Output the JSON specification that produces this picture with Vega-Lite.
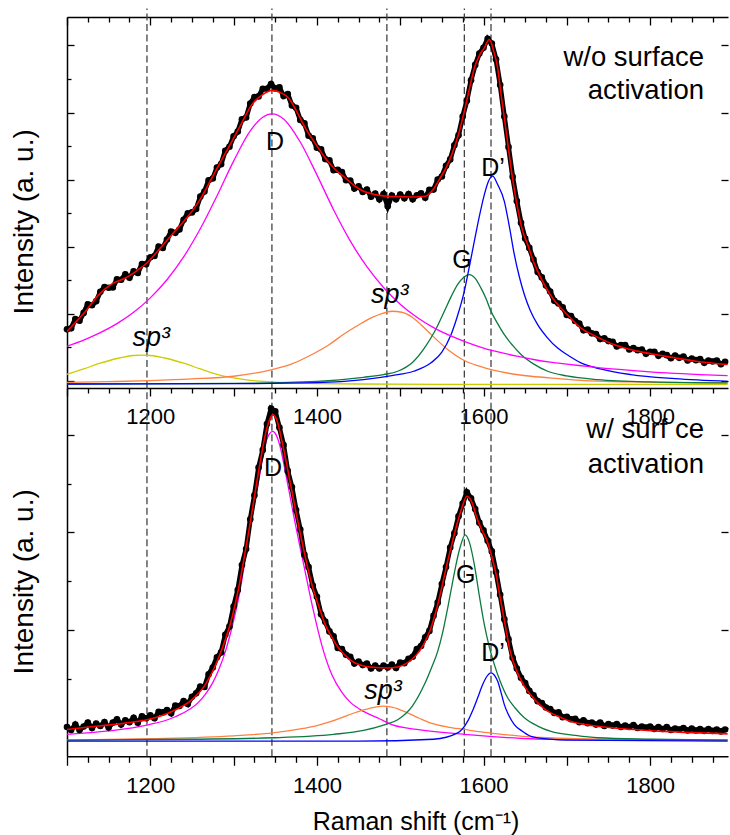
{
  "$schema": "https://vega.github.io/schema/vega-lite/v6.json",
  "padding": {"left": 10, "top": 7, "right": 0, "bottom": 0},
  "bounds": "flush",
  "spacing": 0,
  "config": {
    "view": {"stroke": null},
    "font": "Liberation Sans",
    "axis": {"domainColor": "black", "tickColor": "black", "domainWidth": 1.5, "tickWidth": 1.3, "labelColor": "black", "titleColor": "black", "grid": false, "labelFont": "Liberation Sans", "titleFont": "Liberation Sans", "titleFontWeight": "normal"}
  },
  "datasets": {
    "vlines": [{"x": 1196}, {"x": 1346}, {"x": 1484}, {"x": 1577}, {"x": 1609}],
    "top_comp": [
      {"c": "sp3a", "x": 1100, "y": 0.19}, {"c": "sp3a", "x": 1120, "y": 0.35}, {"c": "sp3a", "x": 1140, "y": 0.52}, {"c": "sp3a", "x": 1160, "y": 0.66}, {"c": "sp3a", "x": 1180, "y": 0.75}, {"c": "sp3a", "x": 1190, "y": 0.76}, {"c": "sp3a", "x": 1200, "y": 0.75}, {"c": "sp3a", "x": 1220, "y": 0.66}, {"c": "sp3a", "x": 1240, "y": 0.52}, {"c": "sp3a", "x": 1260, "y": 0.35}, {"c": "sp3a", "x": 1280, "y": 0.19}, {"c": "sp3a", "x": 1300, "y": 0.08}, {"c": "sp3a", "x": 1320, "y": 0.01}, {"c": "sp3a", "x": 1340, "y": -0.03}, {"c": "sp3a", "x": 1360, "y": -0.06}, {"c": "sp3a", "x": 1400, "y": -0.09}, {"c": "sp3a", "x": 1450, "y": -0.10}, {"c": "sp3a", "x": 1550, "y": -0.11}, {"c": "sp3a", "x": 1893, "y": -0.11},
      {"c": "sp3b", "x": 1100, "y": -0.05}, {"c": "sp3b", "x": 1150, "y": -0.03}, {"c": "sp3b", "x": 1200, "y": 0.0}, {"c": "sp3b", "x": 1250, "y": 0.05}, {"c": "sp3b", "x": 1300, "y": 0.13}, {"c": "sp3b", "x": 1346, "y": 0.33}, {"c": "sp3b", "x": 1370, "y": 0.5}, {"c": "sp3b", "x": 1394, "y": 0.78}, {"c": "sp3b", "x": 1415, "y": 1.08}, {"c": "sp3b", "x": 1433, "y": 1.4}, {"c": "sp3b", "x": 1450, "y": 1.66}, {"c": "sp3b", "x": 1465, "y": 1.87}, {"c": "sp3b", "x": 1478, "y": 2.0}, {"c": "sp3b", "x": 1490, "y": 2.07}, {"c": "sp3b", "x": 1502, "y": 2.04}, {"c": "sp3b", "x": 1514, "y": 1.9}, {"c": "sp3b", "x": 1525, "y": 1.67}, {"c": "sp3b", "x": 1537, "y": 1.38}, {"c": "sp3b", "x": 1557, "y": 0.93}, {"c": "sp3b", "x": 1577, "y": 0.6}, {"c": "sp3b", "x": 1595, "y": 0.43}, {"c": "sp3b", "x": 1609, "y": 0.33}, {"c": "sp3b", "x": 1630, "y": 0.22}, {"c": "sp3b", "x": 1657, "y": 0.13}, {"c": "sp3b", "x": 1690, "y": 0.06}, {"c": "sp3b", "x": 1717, "y": 0.01}, {"c": "sp3b", "x": 1780, "y": -0.04}, {"c": "sp3b", "x": 1840, "y": -0.06}, {"c": "sp3b", "x": 1893, "y": -0.07},
      {"c": "G", "x": 1100, "y": -0.1}, {"c": "G", "x": 1300, "y": -0.08}, {"c": "G", "x": 1400, "y": -0.02}, {"c": "G", "x": 1456, "y": 0.1}, {"c": "G", "x": 1480, "y": 0.18}, {"c": "G", "x": 1497, "y": 0.28}, {"c": "G", "x": 1515, "y": 0.55}, {"c": "G", "x": 1529, "y": 0.97}, {"c": "G", "x": 1541, "y": 1.45}, {"c": "G", "x": 1553, "y": 2.07}, {"c": "G", "x": 1561, "y": 2.5}, {"c": "G", "x": 1569, "y": 2.87}, {"c": "G", "x": 1576, "y": 3.08}, {"c": "G", "x": 1583, "y": 3.16}, {"c": "G", "x": 1590, "y": 3.05}, {"c": "G", "x": 1597, "y": 2.76}, {"c": "G", "x": 1603, "y": 2.45}, {"c": "G", "x": 1609, "y": 2.07}, {"c": "G", "x": 1617, "y": 1.7}, {"c": "G", "x": 1625, "y": 1.37}, {"c": "G", "x": 1635, "y": 1.05}, {"c": "G", "x": 1645, "y": 0.78}, {"c": "G", "x": 1660, "y": 0.5}, {"c": "G", "x": 1677, "y": 0.28}, {"c": "G", "x": 1700, "y": 0.14}, {"c": "G", "x": 1737, "y": 0.03}, {"c": "G", "x": 1800, "y": -0.04}, {"c": "G", "x": 1893, "y": -0.07},
      {"c": "Dp", "x": 1100, "y": -0.1}, {"c": "Dp", "x": 1300, "y": -0.09}, {"c": "Dp", "x": 1400, "y": -0.06}, {"c": "Dp", "x": 1456, "y": 0.03}, {"c": "Dp", "x": 1490, "y": 0.15}, {"c": "Dp", "x": 1516, "y": 0.28}, {"c": "Dp", "x": 1537, "y": 0.53}, {"c": "Dp", "x": 1550, "y": 0.85}, {"c": "Dp", "x": 1561, "y": 1.37}, {"c": "Dp", "x": 1569, "y": 1.95}, {"c": "Dp", "x": 1577, "y": 2.67}, {"c": "Dp", "x": 1583, "y": 3.4}, {"c": "Dp", "x": 1589, "y": 4.16}, {"c": "Dp", "x": 1595, "y": 4.9}, {"c": "Dp", "x": 1601, "y": 5.55}, {"c": "Dp", "x": 1606, "y": 5.95}, {"c": "Dp", "x": 1611, "y": 6.1}, {"c": "Dp", "x": 1617, "y": 5.85}, {"c": "Dp", "x": 1625, "y": 5.35}, {"c": "Dp", "x": 1631, "y": 4.6}, {"c": "Dp", "x": 1637, "y": 3.76}, {"c": "Dp", "x": 1643, "y": 3.1}, {"c": "Dp", "x": 1649, "y": 2.57}, {"c": "Dp", "x": 1656, "y": 2.1}, {"c": "Dp", "x": 1665, "y": 1.67}, {"c": "Dp", "x": 1676, "y": 1.3}, {"c": "Dp", "x": 1689, "y": 0.97}, {"c": "Dp", "x": 1700, "y": 0.78}, {"c": "Dp", "x": 1717, "y": 0.53}, {"c": "Dp", "x": 1740, "y": 0.35}, {"c": "Dp", "x": 1777, "y": 0.18}, {"c": "Dp", "x": 1830, "y": 0.06}, {"c": "Dp", "x": 1893, "y": -0.02},
      {"c": "D", "x": 1100, "y": 1.03}, {"c": "D", "x": 1120, "y": 1.21}, {"c": "D", "x": 1140, "y": 1.43}, {"c": "D", "x": 1160, "y": 1.7}, {"c": "D", "x": 1180, "y": 2.04}, {"c": "D", "x": 1200, "y": 2.47}, {"c": "D", "x": 1220, "y": 3.01}, {"c": "D", "x": 1240, "y": 3.69}, {"c": "D", "x": 1260, "y": 4.53}, {"c": "D", "x": 1280, "y": 5.51}, {"c": "D", "x": 1300, "y": 6.55}, {"c": "D", "x": 1320, "y": 7.45}, {"c": "D", "x": 1335, "y": 7.86}, {"c": "D", "x": 1346, "y": 7.96}, {"c": "D", "x": 1360, "y": 7.81}, {"c": "D", "x": 1380, "y": 7.12}, {"c": "D", "x": 1400, "y": 6.14}, {"c": "D", "x": 1420, "y": 5.1}, {"c": "D", "x": 1440, "y": 4.17}, {"c": "D", "x": 1460, "y": 3.4}, {"c": "D", "x": 1480, "y": 2.78}, {"c": "D", "x": 1500, "y": 2.28}, {"c": "D", "x": 1520, "y": 1.89}, {"c": "D", "x": 1540, "y": 1.58}, {"c": "D", "x": 1560, "y": 1.34}, {"c": "D", "x": 1580, "y": 1.14}, {"c": "D", "x": 1600, "y": 0.97}, {"c": "D", "x": 1620, "y": 0.84}, {"c": "D", "x": 1640, "y": 0.73}, {"c": "D", "x": 1660, "y": 0.63}, {"c": "D", "x": 1680, "y": 0.55}, {"c": "D", "x": 1700, "y": 0.49}, {"c": "D", "x": 1740, "y": 0.38}, {"c": "D", "x": 1780, "y": 0.3}, {"c": "D", "x": 1820, "y": 0.23}, {"c": "D", "x": 1860, "y": 0.18}, {"c": "D", "x": 1893, "y": 0.15}
    ],
    "top_fit": [
      {"x": 1100, "y": 1.47}, {"x": 1120, "y": 2.0}, {"x": 1138, "y": 2.56}, {"x": 1155, "y": 2.9}, {"x": 1170, "y": 3.06}, {"x": 1185, "y": 3.3}, {"x": 1196, "y": 3.51}, {"x": 1210, "y": 3.9}, {"x": 1226, "y": 4.36}, {"x": 1240, "y": 4.75}, {"x": 1250, "y": 5.05}, {"x": 1262, "y": 5.5}, {"x": 1274, "y": 6.05}, {"x": 1286, "y": 6.6}, {"x": 1298, "y": 7.14}, {"x": 1310, "y": 7.7}, {"x": 1322, "y": 8.24}, {"x": 1334, "y": 8.52}, {"x": 1346, "y": 8.66}, {"x": 1356, "y": 8.6}, {"x": 1366, "y": 8.43}, {"x": 1376, "y": 8.02}, {"x": 1386, "y": 7.54}, {"x": 1398, "y": 7.08}, {"x": 1410, "y": 6.64}, {"x": 1422, "y": 6.3}, {"x": 1434, "y": 6.05}, {"x": 1446, "y": 5.8}, {"x": 1456, "y": 5.65}, {"x": 1470, "y": 5.55}, {"x": 1485, "y": 5.5}, {"x": 1500, "y": 5.49}, {"x": 1515, "y": 5.48}, {"x": 1530, "y": 5.5}, {"x": 1540, "y": 5.72}, {"x": 1548, "y": 6.05}, {"x": 1555, "y": 6.35}, {"x": 1562, "y": 6.75}, {"x": 1570, "y": 7.35}, {"x": 1577, "y": 8.04}, {"x": 1583, "y": 8.7}, {"x": 1589, "y": 9.33}, {"x": 1595, "y": 9.7}, {"x": 1601, "y": 9.93}, {"x": 1607, "y": 10.18}, {"x": 1612, "y": 9.85}, {"x": 1617, "y": 9.33}, {"x": 1621, "y": 8.55}, {"x": 1625, "y": 7.84}, {"x": 1629, "y": 7.1}, {"x": 1633, "y": 6.35}, {"x": 1637, "y": 5.7}, {"x": 1641, "y": 5.15}, {"x": 1646, "y": 4.55}, {"x": 1653, "y": 4.06}, {"x": 1660, "y": 3.55}, {"x": 1669, "y": 3.06}, {"x": 1678, "y": 2.65}, {"x": 1689, "y": 2.27}, {"x": 1700, "y": 1.98}, {"x": 1717, "y": 1.57}, {"x": 1735, "y": 1.32}, {"x": 1757, "y": 1.07}, {"x": 1785, "y": 0.88}, {"x": 1817, "y": 0.73}, {"x": 1855, "y": 0.58}, {"x": 1893, "y": 0.48}
    ],
    "top_dots": [
      {"x": 1100, "y": 1.53}, {"x": 1105, "y": 1.56}, {"x": 1110, "y": 1.84}, {"x": 1115, "y": 1.79}, {"x": 1120, "y": 2.02}, {"x": 1125, "y": 2.28}, {"x": 1130, "y": 2.25}, {"x": 1135, "y": 2.37}, {"x": 1140, "y": 2.65}, {"x": 1145, "y": 2.79}, {"x": 1150, "y": 2.77}, {"x": 1155, "y": 2.78}, {"x": 1160, "y": 3.02}, {"x": 1165, "y": 3.01}, {"x": 1170, "y": 3.17}, {"x": 1175, "y": 3.07}, {"x": 1180, "y": 3.26}, {"x": 1185, "y": 3.21}, {"x": 1190, "y": 3.48}, {"x": 1195, "y": 3.47}, {"x": 1200, "y": 3.68}, {"x": 1205, "y": 3.72}, {"x": 1210, "y": 4.0}, {"x": 1215, "y": 3.96}, {"x": 1220, "y": 4.21}, {"x": 1225, "y": 4.45}, {"x": 1230, "y": 4.41}, {"x": 1235, "y": 4.51}, {"x": 1240, "y": 4.8}, {"x": 1245, "y": 4.99}, {"x": 1250, "y": 5.02}, {"x": 1255, "y": 5.12}, {"x": 1260, "y": 5.49}, {"x": 1265, "y": 5.64}, {"x": 1270, "y": 5.98}, {"x": 1275, "y": 6.03}, {"x": 1280, "y": 6.36}, {"x": 1285, "y": 6.46}, {"x": 1290, "y": 6.86}, {"x": 1295, "y": 6.98}, {"x": 1300, "y": 7.29}, {"x": 1305, "y": 7.43}, {"x": 1310, "y": 7.8}, {"x": 1315, "y": 7.85}, {"x": 1320, "y": 8.27}, {"x": 1325, "y": 8.46}, {"x": 1330, "y": 8.48}, {"x": 1335, "y": 8.71}, {"x": 1340, "y": 8.71}, {"x": 1345, "y": 8.85}, {"x": 1350, "y": 8.72}, {"x": 1355, "y": 8.75}, {"x": 1360, "y": 8.49}, {"x": 1365, "y": 8.55}, {"x": 1370, "y": 8.21}, {"x": 1375, "y": 8.14}, {"x": 1380, "y": 7.78}, {"x": 1385, "y": 7.68}, {"x": 1390, "y": 7.31}, {"x": 1395, "y": 7.23}, {"x": 1400, "y": 6.95}, {"x": 1405, "y": 6.9}, {"x": 1410, "y": 6.61}, {"x": 1415, "y": 6.57}, {"x": 1420, "y": 6.28}, {"x": 1425, "y": 6.29}, {"x": 1430, "y": 6.22}, {"x": 1435, "y": 5.98}, {"x": 1440, "y": 5.97}, {"x": 1445, "y": 5.73}, {"x": 1450, "y": 5.8}, {"x": 1455, "y": 5.63}, {"x": 1460, "y": 5.7}, {"x": 1465, "y": 5.49}, {"x": 1470, "y": 5.58}, {"x": 1475, "y": 5.41}, {"x": 1480, "y": 5.57}, {"x": 1485, "y": 5.2}, {"x": 1490, "y": 5.52}, {"x": 1495, "y": 5.41}, {"x": 1500, "y": 5.55}, {"x": 1505, "y": 5.44}, {"x": 1510, "y": 5.57}, {"x": 1515, "y": 5.41}, {"x": 1520, "y": 5.53}, {"x": 1525, "y": 5.59}, {"x": 1530, "y": 5.46}, {"x": 1535, "y": 5.69}, {"x": 1540, "y": 5.7}, {"x": 1545, "y": 6.0}, {"x": 1550, "y": 6.09}, {"x": 1555, "y": 6.41}, {"x": 1560, "y": 6.6}, {"x": 1565, "y": 7.02}, {"x": 1570, "y": 7.32}, {"x": 1575, "y": 7.88}, {"x": 1580, "y": 8.35}, {"x": 1585, "y": 8.96}, {"x": 1590, "y": 9.42}, {"x": 1595, "y": 9.76}, {"x": 1600, "y": 9.93}, {"x": 1605, "y": 10.2}, {"x": 1610, "y": 10.06}, {"x": 1615, "y": 9.59}, {"x": 1620, "y": 8.82}, {"x": 1625, "y": 7.88}, {"x": 1630, "y": 6.97}, {"x": 1635, "y": 6.08}, {"x": 1640, "y": 5.36}, {"x": 1645, "y": 4.71}, {"x": 1650, "y": 4.24}, {"x": 1655, "y": 3.96}, {"x": 1660, "y": 3.61}, {"x": 1665, "y": 3.24}, {"x": 1670, "y": 3.08}, {"x": 1675, "y": 2.84}, {"x": 1680, "y": 2.66}, {"x": 1685, "y": 2.38}, {"x": 1690, "y": 2.3}, {"x": 1695, "y": 2.19}, {"x": 1700, "y": 1.96}, {"x": 1705, "y": 1.93}, {"x": 1710, "y": 1.78}, {"x": 1715, "y": 1.7}, {"x": 1720, "y": 1.5}, {"x": 1725, "y": 1.52}, {"x": 1730, "y": 1.41}, {"x": 1735, "y": 1.39}, {"x": 1740, "y": 1.24}, {"x": 1745, "y": 1.26}, {"x": 1750, "y": 1.18}, {"x": 1755, "y": 1.16}, {"x": 1760, "y": 1.02}, {"x": 1765, "y": 1.06}, {"x": 1770, "y": 1.06}, {"x": 1775, "y": 0.93}, {"x": 1780, "y": 0.97}, {"x": 1785, "y": 0.91}, {"x": 1790, "y": 0.93}, {"x": 1795, "y": 0.8}, {"x": 1800, "y": 0.86}, {"x": 1805, "y": 0.86}, {"x": 1810, "y": 0.74}, {"x": 1815, "y": 0.8}, {"x": 1820, "y": 0.76}, {"x": 1825, "y": 0.67}, {"x": 1830, "y": 0.75}, {"x": 1835, "y": 0.68}, {"x": 1840, "y": 0.72}, {"x": 1845, "y": 0.6}, {"x": 1850, "y": 0.66}, {"x": 1855, "y": 0.61}, {"x": 1860, "y": 0.64}, {"x": 1865, "y": 0.53}, {"x": 1870, "y": 0.6}, {"x": 1875, "y": 0.57}, {"x": 1880, "y": 0.6}, {"x": 1885, "y": 0.49}, {"x": 1890, "y": 0.56}
    ],
    "top_labels": [{"x": 1349.7, "y": 6.87, "t": "D"}, {"x": 1574.2, "y": 3.36, "t": "G"}, {"x": 1611.4, "y": 6.1, "t": "D’"}],
    "top_labels_it": [{"x": 1201, "y": 1.02, "t": "sp³"}, {"x": 1487.5, "y": 2.32, "t": "sp³"}],
    "top_note": [{"x": 1864.7, "y": 9.38, "t": "w/o surface"}, {"x": 1864.7, "y": 8.4, "t": "activation"}],
    "bot_comp": [
      {"c": "D", "x": 1100, "y": -0.14}, {"c": "D", "x": 1150, "y": -0.07}, {"c": "D", "x": 1196, "y": 0.05}, {"c": "D", "x": 1230, "y": 0.22}, {"c": "D", "x": 1258, "y": 0.52}, {"c": "D", "x": 1266, "y": 0.68}, {"c": "D", "x": 1275, "y": 0.92}, {"c": "D", "x": 1282, "y": 1.18}, {"c": "D", "x": 1290, "y": 1.55}, {"c": "D", "x": 1298, "y": 2.05}, {"c": "D", "x": 1306, "y": 2.65}, {"c": "D", "x": 1314, "y": 3.45}, {"c": "D", "x": 1322, "y": 4.35}, {"c": "D", "x": 1330, "y": 5.05}, {"c": "D", "x": 1338, "y": 5.8}, {"c": "D", "x": 1343, "y": 6.02}, {"c": "D", "x": 1347, "y": 6.07}, {"c": "D", "x": 1351, "y": 6.0}, {"c": "D", "x": 1356, "y": 5.75}, {"c": "D", "x": 1362, "y": 5.25}, {"c": "D", "x": 1368, "y": 4.72}, {"c": "D", "x": 1374, "y": 4.18}, {"c": "D", "x": 1380, "y": 3.68}, {"c": "D", "x": 1388, "y": 3.02}, {"c": "D", "x": 1396, "y": 2.38}, {"c": "D", "x": 1406, "y": 1.68}, {"c": "D", "x": 1418, "y": 1.08}, {"c": "D", "x": 1430, "y": 0.72}, {"c": "D", "x": 1440, "y": 0.52}, {"c": "D", "x": 1456, "y": 0.33}, {"c": "D", "x": 1475, "y": 0.18}, {"c": "D", "x": 1490, "y": 0.06}, {"c": "D", "x": 1520, "y": -0.04}, {"c": "D", "x": 1577, "y": -0.14}, {"c": "D", "x": 1656, "y": -0.23}, {"c": "D", "x": 1750, "y": -0.25}, {"c": "D", "x": 1893, "y": -0.26},
      {"c": "sp3b", "x": 1100, "y": -0.26}, {"c": "sp3b", "x": 1200, "y": -0.23}, {"c": "sp3b", "x": 1300, "y": -0.17}, {"c": "sp3b", "x": 1347, "y": -0.11}, {"c": "sp3b", "x": 1380, "y": -0.03}, {"c": "sp3b", "x": 1400, "y": 0.04}, {"c": "sp3b", "x": 1418, "y": 0.13}, {"c": "sp3b", "x": 1437, "y": 0.25}, {"c": "sp3b", "x": 1456, "y": 0.36}, {"c": "sp3b", "x": 1470, "y": 0.42}, {"c": "sp3b", "x": 1479, "y": 0.44}, {"c": "sp3b", "x": 1490, "y": 0.42}, {"c": "sp3b", "x": 1509, "y": 0.3}, {"c": "sp3b", "x": 1523, "y": 0.19}, {"c": "sp3b", "x": 1537, "y": 0.09}, {"c": "sp3b", "x": 1557, "y": 0.01}, {"c": "sp3b", "x": 1577, "y": -0.04}, {"c": "sp3b", "x": 1597, "y": -0.09}, {"c": "sp3b", "x": 1617, "y": -0.13}, {"c": "sp3b", "x": 1647, "y": -0.18}, {"c": "sp3b", "x": 1677, "y": -0.21}, {"c": "sp3b", "x": 1750, "y": -0.24}, {"c": "sp3b", "x": 1893, "y": -0.26},
      {"c": "G", "x": 1100, "y": -0.26}, {"c": "G", "x": 1250, "y": -0.24}, {"c": "G", "x": 1347, "y": -0.21}, {"c": "G", "x": 1420, "y": -0.14}, {"c": "G", "x": 1456, "y": -0.06}, {"c": "G", "x": 1480, "y": 0.05}, {"c": "G", "x": 1497, "y": 0.16}, {"c": "G", "x": 1515, "y": 0.45}, {"c": "G", "x": 1529, "y": 0.88}, {"c": "G", "x": 1537, "y": 1.2}, {"c": "G", "x": 1545, "y": 1.56}, {"c": "G", "x": 1551, "y": 1.95}, {"c": "G", "x": 1557, "y": 2.45}, {"c": "G", "x": 1562, "y": 2.9}, {"c": "G", "x": 1567, "y": 3.34}, {"c": "G", "x": 1572, "y": 3.7}, {"c": "G", "x": 1578, "y": 3.95}, {"c": "G", "x": 1583, "y": 3.8}, {"c": "G", "x": 1589, "y": 3.34}, {"c": "G", "x": 1595, "y": 2.7}, {"c": "G", "x": 1601, "y": 2.11}, {"c": "G", "x": 1607, "y": 1.65}, {"c": "G", "x": 1613, "y": 1.29}, {"c": "G", "x": 1620, "y": 0.95}, {"c": "G", "x": 1629, "y": 0.61}, {"c": "G", "x": 1638, "y": 0.4}, {"c": "G", "x": 1649, "y": 0.2}, {"c": "G", "x": 1665, "y": 0.03}, {"c": "G", "x": 1681, "y": -0.08}, {"c": "G", "x": 1710, "y": -0.16}, {"c": "G", "x": 1737, "y": -0.21}, {"c": "G", "x": 1800, "y": -0.24}, {"c": "G", "x": 1893, "y": -0.26},
      {"c": "Dp", "x": 1100, "y": -0.28}, {"c": "Dp", "x": 1450, "y": -0.28}, {"c": "Dp", "x": 1540, "y": -0.24}, {"c": "Dp", "x": 1569, "y": -0.11}, {"c": "Dp", "x": 1581, "y": 0.13}, {"c": "Dp", "x": 1587, "y": 0.35}, {"c": "Dp", "x": 1593, "y": 0.61}, {"c": "Dp", "x": 1599, "y": 0.88}, {"c": "Dp", "x": 1603, "y": 1.02}, {"c": "Dp", "x": 1609, "y": 1.12}, {"c": "Dp", "x": 1614, "y": 1.05}, {"c": "Dp", "x": 1617, "y": 0.95}, {"c": "Dp", "x": 1621, "y": 0.72}, {"c": "Dp", "x": 1625, "y": 0.47}, {"c": "Dp", "x": 1630, "y": 0.26}, {"c": "Dp", "x": 1637, "y": 0.06}, {"c": "Dp", "x": 1647, "y": -0.08}, {"c": "Dp", "x": 1657, "y": -0.18}, {"c": "Dp", "x": 1680, "y": -0.24}, {"c": "Dp", "x": 1700, "y": -0.26}, {"c": "Dp", "x": 1893, "y": -0.28}
    ],
    "bot_fit": [
      {"x": 1100, "y": -0.04}, {"x": 1138, "y": 0.03}, {"x": 1170, "y": 0.09}, {"x": 1196, "y": 0.16}, {"x": 1226, "y": 0.33}, {"x": 1250, "y": 0.57}, {"x": 1266, "y": 0.88}, {"x": 1282, "y": 1.43}, {"x": 1298, "y": 2.25}, {"x": 1306, "y": 2.85}, {"x": 1314, "y": 3.61}, {"x": 1320, "y": 4.2}, {"x": 1326, "y": 4.84}, {"x": 1332, "y": 5.45}, {"x": 1338, "y": 6.0}, {"x": 1343, "y": 6.3}, {"x": 1347, "y": 6.41}, {"x": 1352, "y": 6.3}, {"x": 1358, "y": 5.87}, {"x": 1364, "y": 5.38}, {"x": 1370, "y": 4.84}, {"x": 1376, "y": 4.32}, {"x": 1382, "y": 3.82}, {"x": 1388, "y": 3.35}, {"x": 1394, "y": 2.93}, {"x": 1402, "y": 2.5}, {"x": 1410, "y": 2.11}, {"x": 1418, "y": 1.85}, {"x": 1426, "y": 1.63}, {"x": 1434, "y": 1.48}, {"x": 1442, "y": 1.36}, {"x": 1456, "y": 1.26}, {"x": 1470, "y": 1.23}, {"x": 1485, "y": 1.22}, {"x": 1497, "y": 1.24}, {"x": 1508, "y": 1.32}, {"x": 1518, "y": 1.46}, {"x": 1528, "y": 1.7}, {"x": 1536, "y": 2.0}, {"x": 1544, "y": 2.45}, {"x": 1550, "y": 2.88}, {"x": 1556, "y": 3.34}, {"x": 1562, "y": 3.76}, {"x": 1568, "y": 4.16}, {"x": 1574, "y": 4.5}, {"x": 1580, "y": 4.74}, {"x": 1586, "y": 4.62}, {"x": 1592, "y": 4.3}, {"x": 1598, "y": 4.05}, {"x": 1604, "y": 3.84}, {"x": 1610, "y": 3.5}, {"x": 1615, "y": 3.15}, {"x": 1620, "y": 2.66}, {"x": 1626, "y": 2.1}, {"x": 1632, "y": 1.56}, {"x": 1640, "y": 1.15}, {"x": 1648, "y": 0.88}, {"x": 1660, "y": 0.6}, {"x": 1672, "y": 0.4}, {"x": 1688, "y": 0.24}, {"x": 1704, "y": 0.13}, {"x": 1730, "y": 0.04}, {"x": 1757, "y": -0.01}, {"x": 1817, "y": -0.08}, {"x": 1893, "y": -0.13}
    ],
    "bot_dots": [
      {"x": 1100, "y": 0.01}, {"x": 1105, "y": -0.05}, {"x": 1110, "y": 0.06}, {"x": 1115, "y": -0.05}, {"x": 1120, "y": 0.02}, {"x": 1125, "y": 0.1}, {"x": 1130, "y": -0.01}, {"x": 1135, "y": 0.08}, {"x": 1140, "y": 0.03}, {"x": 1145, "y": 0.11}, {"x": 1150, "y": 0.0}, {"x": 1155, "y": 0.1}, {"x": 1160, "y": 0.17}, {"x": 1165, "y": 0.06}, {"x": 1170, "y": 0.15}, {"x": 1175, "y": 0.11}, {"x": 1180, "y": 0.2}, {"x": 1185, "y": 0.1}, {"x": 1190, "y": 0.23}, {"x": 1195, "y": 0.19}, {"x": 1200, "y": 0.25}, {"x": 1205, "y": 0.19}, {"x": 1210, "y": 0.32}, {"x": 1215, "y": 0.31}, {"x": 1220, "y": 0.36}, {"x": 1225, "y": 0.29}, {"x": 1230, "y": 0.45}, {"x": 1235, "y": 0.44}, {"x": 1240, "y": 0.54}, {"x": 1245, "y": 0.48}, {"x": 1250, "y": 0.63}, {"x": 1255, "y": 0.7}, {"x": 1260, "y": 0.84}, {"x": 1265, "y": 0.83}, {"x": 1270, "y": 1.09}, {"x": 1275, "y": 1.23}, {"x": 1280, "y": 1.44}, {"x": 1285, "y": 1.54}, {"x": 1290, "y": 1.9}, {"x": 1295, "y": 2.07}, {"x": 1300, "y": 2.48}, {"x": 1305, "y": 2.82}, {"x": 1310, "y": 3.33}, {"x": 1315, "y": 3.66}, {"x": 1320, "y": 4.27}, {"x": 1325, "y": 4.76}, {"x": 1330, "y": 5.33}, {"x": 1335, "y": 5.69}, {"x": 1340, "y": 6.22}, {"x": 1345, "y": 6.54}, {"x": 1350, "y": 6.48}, {"x": 1355, "y": 6.15}, {"x": 1360, "y": 5.79}, {"x": 1365, "y": 5.26}, {"x": 1370, "y": 4.93}, {"x": 1375, "y": 4.46}, {"x": 1380, "y": 4.06}, {"x": 1385, "y": 3.54}, {"x": 1390, "y": 3.29}, {"x": 1395, "y": 2.91}, {"x": 1400, "y": 2.68}, {"x": 1405, "y": 2.32}, {"x": 1410, "y": 2.17}, {"x": 1415, "y": 1.97}, {"x": 1420, "y": 1.87}, {"x": 1425, "y": 1.63}, {"x": 1430, "y": 1.61}, {"x": 1435, "y": 1.49}, {"x": 1440, "y": 1.45}, {"x": 1445, "y": 1.31}, {"x": 1450, "y": 1.35}, {"x": 1455, "y": 1.28}, {"x": 1460, "y": 1.31}, {"x": 1465, "y": 1.21}, {"x": 1470, "y": 1.27}, {"x": 1475, "y": 1.21}, {"x": 1480, "y": 1.27}, {"x": 1485, "y": 1.23}, {"x": 1490, "y": 1.29}, {"x": 1495, "y": 1.22}, {"x": 1500, "y": 1.33}, {"x": 1505, "y": 1.32}, {"x": 1510, "y": 1.41}, {"x": 1515, "y": 1.45}, {"x": 1520, "y": 1.61}, {"x": 1525, "y": 1.67}, {"x": 1530, "y": 1.85}, {"x": 1535, "y": 1.98}, {"x": 1540, "y": 2.29}, {"x": 1545, "y": 2.56}, {"x": 1550, "y": 2.94}, {"x": 1555, "y": 3.29}, {"x": 1560, "y": 3.69}, {"x": 1565, "y": 3.98}, {"x": 1570, "y": 4.33}, {"x": 1575, "y": 4.59}, {"x": 1580, "y": 4.82}, {"x": 1585, "y": 4.7}, {"x": 1590, "y": 4.48}, {"x": 1595, "y": 4.2}, {"x": 1600, "y": 4.04}, {"x": 1605, "y": 3.83}, {"x": 1610, "y": 3.61}, {"x": 1615, "y": 3.19}, {"x": 1620, "y": 2.72}, {"x": 1625, "y": 2.22}, {"x": 1630, "y": 1.81}, {"x": 1635, "y": 1.43}, {"x": 1640, "y": 1.21}, {"x": 1645, "y": 1.02}, {"x": 1650, "y": 0.91}, {"x": 1655, "y": 0.75}, {"x": 1660, "y": 0.66}, {"x": 1665, "y": 0.54}, {"x": 1670, "y": 0.5}, {"x": 1675, "y": 0.41}, {"x": 1680, "y": 0.38}, {"x": 1685, "y": 0.3}, {"x": 1690, "y": 0.31}, {"x": 1695, "y": 0.21}, {"x": 1700, "y": 0.22}, {"x": 1705, "y": 0.17}, {"x": 1710, "y": 0.18}, {"x": 1715, "y": 0.11}, {"x": 1720, "y": 0.15}, {"x": 1725, "y": 0.09}, {"x": 1730, "y": 0.1}, {"x": 1735, "y": 0.06}, {"x": 1740, "y": 0.1}, {"x": 1745, "y": 0.03}, {"x": 1750, "y": 0.07}, {"x": 1755, "y": 0.04}, {"x": 1760, "y": 0.07}, {"x": 1765, "y": 0.01}, {"x": 1770, "y": 0.04}, {"x": 1775, "y": 0.01}, {"x": 1780, "y": 0.05}, {"x": 1785, "y": -0.01}, {"x": 1790, "y": 0.02}, {"x": 1795, "y": 0.0}, {"x": 1800, "y": 0.02}, {"x": 1805, "y": -0.03}, {"x": 1810, "y": 0.01}, {"x": 1815, "y": -0.03}, {"x": 1820, "y": 0.01}, {"x": 1825, "y": -0.05}, {"x": 1830, "y": -0.02}, {"x": 1835, "y": -0.04}, {"x": 1840, "y": -0.01}, {"x": 1845, "y": -0.06}, {"x": 1850, "y": -0.02}, {"x": 1855, "y": -0.06}, {"x": 1860, "y": -0.03}, {"x": 1865, "y": -0.07}, {"x": 1870, "y": -0.03}, {"x": 1875, "y": -0.07}, {"x": 1880, "y": -0.04}, {"x": 1885, "y": -0.08}, {"x": 1890, "y": -0.04}
    ],
    "bot_labels": [{"x": 1347.3, "y": 5.15, "t": "D"}, {"x": 1578.6, "y": 2.96, "t": "G"}, {"x": 1611.4, "y": 1.36, "t": "D’"}],
    "bot_labels_it": [{"x": 1479.4, "y": 0.59, "t": "sp³"}],
    "bot_note": [{"x": 1864.7, "y": 5.93, "t": "w/ surf ce"}, {"x": 1864.7, "y": 5.22, "t": "activation"}]
  },
  "vconcat": [
    {
      "width": 661,
      "height": 371,
      "resolve": {"axis": {"x": "independent", "y": "independent"}},
      "layer": [
        {
          "data": {"name": "vlines"},
          "mark": {"type": "rule", "strokeDash": [7, 3.5], "color": "#444444", "strokeWidth": 1.3},
          "encoding": {
            "x": {"field": "x", "type": "quantitative", "scale": {"domain": [1100, 1893.5], "nice": false, "zero": false}, "axis": null},
            "y": {"datum": -0.22, "type": "quantitative", "scale": {"domain": [-0.22, 10.85], "nice": false, "zero": false}, "axis": null},
            "y2": {"datum": 11.1}
          }
        },
        {
          "data": {"name": "top_comp"},
          "mark": {"type": "line", "strokeWidth": 1.3, "interpolate": "monotone", "clip": true},
          "encoding": {
            "x": {"field": "x", "type": "quantitative", "scale": {"domain": [1100, 1893.5], "nice": false, "zero": false},
                  "axis": {"orient": "bottom", "values": [1125, 1150, 1175, 1225, 1250, 1275, 1325, 1350, 1375, 1425, 1450, 1475, 1525, 1550, 1575, 1625, 1650, 1675, 1725, 1750, 1775, 1825, 1850, 1875], "tickSize": 5, "labels": false, "domain": false, "title": null}},
            "y": {"field": "y", "type": "quantitative", "scale": {"domain": [-0.22, 10.85], "nice": false, "zero": false},
                  "axis": {"orient": "left", "values": [1, 3, 5, 7, 9], "tickSize": -4, "labels": false, "domain": false, "title": null}},
            "color": {"field": "c", "type": "nominal", "scale": {"domain": ["sp3a", "sp3b", "G", "Dp", "D"], "range": ["#cccc00", "#ff8040", "#0b7a3e", "#0000ff", "#ff00ff"]}, "legend": null}
          }
        },
        {
          "data": {"name": "top_dots"},
          "mark": {"type": "line", "color": "black", "strokeWidth": 5, "clip": true},
          "encoding": {
            "x": {"field": "x", "type": "quantitative", "axis": null},
            "y": {"field": "y", "type": "quantitative", "axis": null}
          }
        },
        {
          "data": {"name": "top_dots"},
          "mark": {"type": "circle", "size": 44, "color": "black", "opacity": 1},
          "encoding": {
            "x": {"field": "x", "type": "quantitative", "scale": {"domain": [1100, 1893.5], "nice": false, "zero": false},
                  "axis": {"orient": "bottom", "values": [1100, 1200, 1300, 1400, 1500, 1600, 1700, 1800], "tickSize": 8, "format": "d", "labelExpr": "datum.value % 200 == 0 ? datum.label : ''", "labelFontSize": 22, "labelPadding": 27, "labelBaseline": "alphabetic", "labelFlush": false, "labelOverlap": false, "domain": true, "title": null}},
            "y": {"field": "y", "type": "quantitative", "scale": {"domain": [-0.22, 10.85], "nice": false, "zero": false},
                  "axis": {"orient": "left", "values": [0, 2, 4, 6, 8, 10], "tickSize": -7, "labels": false, "domain": true, "title": "Intensity (a. u.)", "titleFontSize": 28, "titleX": -29, "titleY": 204.3, "titleAngle": 270, "titleBaseline": "bottom", "titleAlign": "center"}}
          }
        },
        {
          "data": {"name": "top_fit"},
          "mark": {"type": "line", "color": "#ff0000", "strokeWidth": 1.6, "interpolate": "monotone", "clip": true},
          "encoding": {
            "x": {"field": "x", "type": "quantitative", "scale": {"domain": [1100, 1893.5], "nice": false, "zero": false},
                  "axis": {"orient": "top", "values": [1100, 1200, 1300, 1400, 1500, 1600, 1700, 1800], "tickSize": -8, "labels": false, "domain": true, "title": null}},
            "y": {"field": "y", "type": "quantitative", "scale": {"domain": [-0.22, 10.85], "nice": false, "zero": false},
                  "axis": {"orient": "right", "values": [0, 2, 4, 6, 8, 10], "tickSize": -7, "labels": false, "domain": false, "title": null}}
          }
        },
        {
          "data": {"name": "top_labels"},
          "mark": {"type": "text", "fontSize": 25, "align": "center", "baseline": "alphabetic", "color": "black"},
          "encoding": {
            "x": {"field": "x", "type": "quantitative", "scale": {"domain": [1100, 1893.5], "nice": false, "zero": false},
                  "axis": {"orient": "top", "values": [1125, 1150, 1175, 1225, 1250, 1275, 1325, 1350, 1375, 1425, 1450, 1475, 1525, 1550, 1575, 1625, 1650, 1675, 1725, 1750, 1775, 1825, 1850, 1875], "tickSize": -5, "labels": false, "domain": false, "title": null}},
            "y": {"field": "y", "type": "quantitative", "scale": {"domain": [-0.22, 10.85], "nice": false, "zero": false}, "axis": null},
            "text": {"field": "t"}
          }
        },
        {
          "data": {"name": "top_labels_it"},
          "mark": {"type": "text", "fontSize": 27, "fontStyle": "italic", "align": "center", "baseline": "alphabetic", "color": "black"},
          "encoding": {
            "x": {"field": "x", "type": "quantitative", "axis": null},
            "y": {"field": "y", "type": "quantitative", "axis": null},
            "text": {"field": "t"}
          }
        },
        {
          "data": {"name": "top_note"},
          "mark": {"type": "text", "fontSize": 27.5, "align": "right", "baseline": "alphabetic", "color": "black"},
          "encoding": {
            "x": {"field": "x", "type": "quantitative", "axis": null},
            "y": {"field": "y", "type": "quantitative", "axis": null},
            "text": {"field": "t"}
          }
        }
      ]
    },
    {
      "width": 661,
      "height": 368.3,
      "resolve": {"axis": {"x": "independent", "y": "independent"}},
      "layer": [
        {
          "data": {"name": "vlines"},
          "mark": {"type": "rule", "strokeDash": [7, 3.5], "color": "#444444", "strokeWidth": 1.3},
          "encoding": {
            "x": {"field": "x", "type": "quantitative", "scale": {"domain": [1100, 1893.5], "nice": false, "zero": false}, "axis": null},
            "y": {"datum": -0.59, "type": "quantitative", "scale": {"domain": [-0.59, 6.96], "nice": false, "zero": false}, "axis": null},
            "y2": {"datum": 6.96}
          }
        },
        {
          "data": {"name": "bot_comp"},
          "mark": {"type": "line", "strokeWidth": 1.3, "interpolate": "monotone", "clip": true},
          "encoding": {
            "x": {"field": "x", "type": "quantitative", "scale": {"domain": [1100, 1893.5], "nice": false, "zero": false},
                  "axis": {"orient": "bottom", "values": [1125, 1150, 1175, 1225, 1250, 1275, 1325, 1350, 1375, 1425, 1450, 1475, 1525, 1550, 1575, 1625, 1650, 1675, 1725, 1750, 1775, 1825, 1850, 1875], "tickSize": 6, "labels": false, "domain": false, "title": null}},
            "y": {"field": "y", "type": "quantitative", "scale": {"domain": [-0.59, 6.96], "nice": false, "zero": false},
                  "axis": {"orient": "left", "values": [1, 3, 5], "tickSize": -4, "labels": false, "domain": false, "title": null}},
            "color": {"field": "c", "type": "nominal", "scale": {"domain": ["sp3a", "sp3b", "G", "Dp", "D"], "range": ["#cccc00", "#ff8040", "#0b7a3e", "#0000ff", "#ff00ff"]}, "legend": null}
          }
        },
        {
          "data": {"name": "bot_dots"},
          "mark": {"type": "line", "color": "black", "strokeWidth": 5, "clip": true},
          "encoding": {
            "x": {"field": "x", "type": "quantitative", "axis": null},
            "y": {"field": "y", "type": "quantitative", "axis": null}
          }
        },
        {
          "data": {"name": "bot_dots"},
          "mark": {"type": "circle", "size": 44, "color": "black", "opacity": 1},
          "encoding": {
            "x": {"field": "x", "type": "quantitative", "scale": {"domain": [1100, 1893.5], "nice": false, "zero": false},
                  "axis": {"orient": "bottom", "values": [1100, 1200, 1300, 1400, 1500, 1600, 1700, 1800], "tickSize": 9, "format": "d", "labelExpr": "datum.value % 200 == 0 ? datum.label : ''", "labelFontSize": 22, "labelPadding": 26.7, "labelBaseline": "alphabetic", "labelFlush": false, "labelOverlap": false, "domain": true, "title": "Raman shift (cm⁻¹)", "titleFontSize": 25, "titleX": 348.5, "titleY": 73.5, "titleBaseline": "alphabetic", "titleAlign": "center"}},
            "y": {"field": "y", "type": "quantitative", "scale": {"domain": [-0.59, 6.96], "nice": false, "zero": false},
                  "axis": {"orient": "left", "values": [0, 2, 4, 6], "tickSize": -7, "labels": false, "domain": true, "title": "Intensity (a. u.)", "titleFontSize": 28, "titleX": -29, "titleY": 193.3, "titleAngle": 270, "titleBaseline": "bottom", "titleAlign": "center"}}
          }
        },
        {
          "data": {"name": "bot_fit"},
          "mark": {"type": "line", "color": "#ff0000", "strokeWidth": 1.6, "interpolate": "monotone", "clip": true},
          "encoding": {
            "x": {"field": "x", "type": "quantitative", "scale": {"domain": [1100, 1893.5], "nice": false, "zero": false}, "axis": null},
            "y": {"field": "y", "type": "quantitative", "scale": {"domain": [-0.59, 6.96], "nice": false, "zero": false},
                  "axis": {"orient": "right", "values": [0, 2, 4, 6], "tickSize": -7, "labels": false, "domain": false, "title": null}}
          }
        },
        {
          "data": {"name": "bot_labels"},
          "mark": {"type": "text", "fontSize": 25, "align": "center", "baseline": "alphabetic", "color": "black"},
          "encoding": {
            "x": {"field": "x", "type": "quantitative", "axis": null},
            "y": {"field": "y", "type": "quantitative", "axis": null},
            "text": {"field": "t"}
          }
        },
        {
          "data": {"name": "bot_labels_it"},
          "mark": {"type": "text", "fontSize": 27, "fontStyle": "italic", "align": "center", "baseline": "alphabetic", "color": "black"},
          "encoding": {
            "x": {"field": "x", "type": "quantitative", "axis": null},
            "y": {"field": "y", "type": "quantitative", "axis": null},
            "text": {"field": "t"}
          }
        },
        {
          "data": {"name": "bot_note"},
          "mark": {"type": "text", "fontSize": 27.5, "align": "right", "baseline": "alphabetic", "color": "black"},
          "encoding": {
            "x": {"field": "x", "type": "quantitative", "axis": null},
            "y": {"field": "y", "type": "quantitative", "axis": null},
            "text": {"field": "t"}
          }
        }
      ]
    }
  ]
}
